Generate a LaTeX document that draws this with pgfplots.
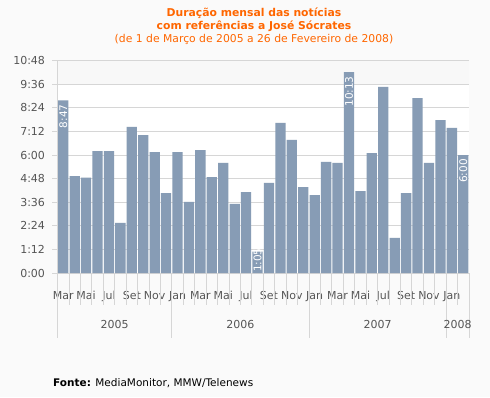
\documentclass[border=0pt]{standalone}
\usepackage{pgfplots}
\pgfplotsset{compat=1.18}
\usepackage{fontspec}
\setmainfont{DejaVu Sans}
\definecolor{barc}{RGB}{135,156,181}
\definecolor{gridc}{RGB}{214,214,214}
\definecolor{bgc}{RGB}{250,250,250}
\definecolor{bandc}{RGB}{248,248,248}
\definecolor{titc}{RGB}{255,102,0}
\definecolor{txtc}{RGB}{85,85,85}
\begin{document}
\begin{tikzpicture}[x=1pt,y=1pt]
\fill[bgc] (0,0) rectangle (490,397);
\useasboundingbox (0,0) rectangle (490,397);
\fill[white] (57.5,124) rectangle (469,312.7);
\fill[bandc] (57.5,312.7) rectangle (469,336.3);
\node[anchor=base, text=titc, font=\fontsize{10.8}{13}\selectfont\bfseries, inner sep=0pt] at (254,380.5) {Duração mensal das notícias};
\node[anchor=base, text=titc, font=\fontsize{10.8}{13}\selectfont\bfseries, inner sep=0pt] at (254,367.5) {com referências a José Sócrates};
\node[anchor=base, text=titc, font=\fontsize{10.8}{13}\selectfont, inner sep=0pt] at (254,354.5) {(de 1 de Março de 2005 a 26 de Fevereiro de 2008)};
\node[anchor=base west, font=\fontsize{10.5}{13}\selectfont, inner sep=0pt] at (53,11) {\textbf{Fonte:} MediaMonitor, MMW/Telenews};
\begin{axis}[
  at={(57.5pt,124pt)}, anchor=south west,
  scale only axis, width=411.5pt, height=212.3pt,
  xmin=-0.5, xmax=35.5, ymin=0, ymax=648,
  ybar, bar width=0.9,
  clip=false,
  ytick={0,72,...,648},
  yticklabels={0:00,1:12,2:24,3:36,4:48,6:00,7:12,8:24,9:36,10:48},
  xtick={0,2,...,34},
  xticklabels={Mar,Mai,Jul,Set,Nov,Jan,Mar,Mai,Jul,Set,Nov,Jan,Mar,Mai,Jul,Set,Nov,Jan},
  ymajorgrids, grid style={gridc, line width=0.8pt},
  axis x line*=bottom, axis y line*=left,
  axis line style={gridc, line width=0.8pt, -},
  tick align=outside, major tick length=5pt,
  xtick style={draw=none}, ytick style={gridc, line width=0.8pt},
  yticklabel style={font=\fontsize{11}{13}\selectfont, text=txtc, anchor=east, xshift=-4pt},
  xticklabel style={font=\fontsize{11}{13}\selectfont, text=txtc, anchor=base, yshift=-21pt},
]
\addplot[fill=barc, draw=none, bar shift=0pt] coordinates {
(0,527) (1,296) (2,291) (3,372) (4,372) (5,153) (6,446) (7,421) (8,369) (9,244)
(10,369) (11,217) (12,375) (13,293) (14,336) (15,211) (16,247) (17,65) (18,275) (19,458)
(20,406) (21,262) (22,238) (23,339) (24,336) (25,613) (26,250) (27,366) (28,568) (29,107)
(30,244) (31,534) (32,336) (33,467) (34,443) (35,360)
};
\addplot[draw=none, fill=none, bar shift=0pt, point meta=explicit symbolic, nodes near coords,
  nodes near coords style={rotate=90, anchor=east, text=white, font=\fontsize{10.5}{12}\selectfont, inner xsep=4pt}]
  coordinates {(0,527) [8:47] (25,613) [10:13] (35,360) [6:00]};
\addplot[draw=none, fill=none, bar shift=0pt, point meta=explicit symbolic, nodes near coords,
  nodes near coords style={rotate=90, anchor=west, text=white, font=\fontsize{10.5}{12}\selectfont, inner xsep=0.5pt}]
  coordinates {(17,1) [1:05]};
\pgfplotsinvokeforeach{-0.5,0.5,...,35.5}{\draw[gridc, line width=0.8pt] (axis cs:#1,0) -- ([yshift=-32pt]axis cs:#1,0);}
\pgfplotsinvokeforeach{-0.5,9.5,21.5,33.5,35.5}{\draw[gridc, line width=0.8pt] (axis cs:#1,0) -- ([yshift=-65pt]axis cs:#1,0);}
\node[anchor=base, font=\fontsize{11}{13}\selectfont, text=txtc, yshift=-55pt] at (axis cs:4.5,0) {2005};
\node[anchor=base, font=\fontsize{11}{13}\selectfont, text=txtc, yshift=-55pt] at (axis cs:15.5,0) {2006};
\node[anchor=base, font=\fontsize{11}{13}\selectfont, text=txtc, yshift=-55pt] at (axis cs:27.5,0) {2007};
\node[anchor=base, font=\fontsize{11}{13}\selectfont, text=txtc, yshift=-55pt] at (axis cs:34.5,0) {2008};
\end{axis}
\end{tikzpicture}
\end{document}
